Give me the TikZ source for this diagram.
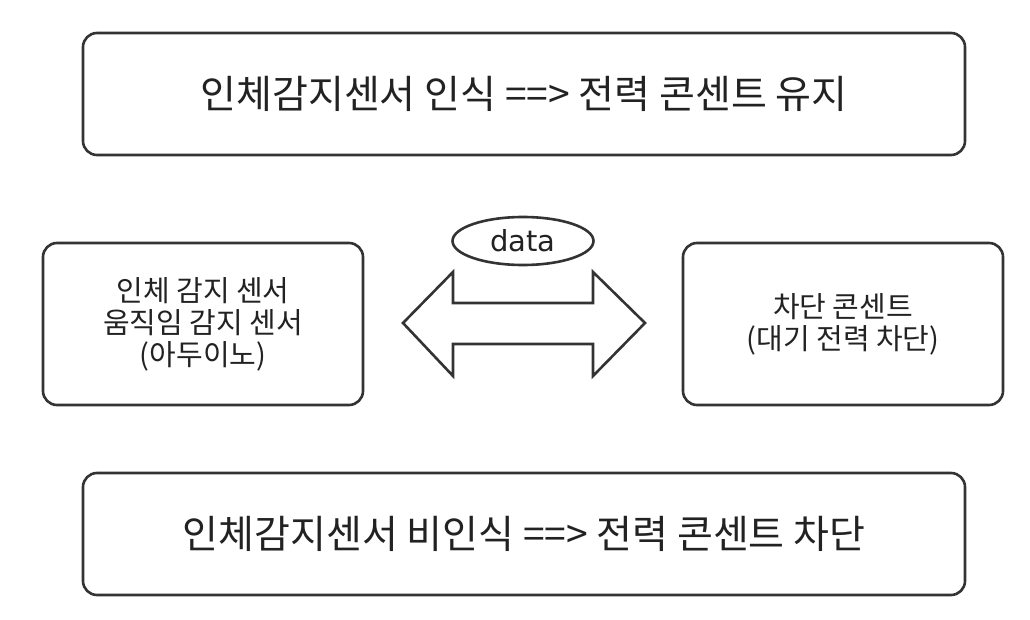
\documentclass[tikz,border=0pt]{standalone}
\usepackage{fontspec}
\setmainfont{Noto Sans CJK KR}
\newfontfamily\latinfont{DejaVu Sans}
\usetikzlibrary{shapes.geometric}
\definecolor{linec}{HTML}{333333}
\definecolor{textc}{HTML}{222222}
\begin{document}
\begin{tikzpicture}[x=1pt,y=-1pt,
  box/.style={draw=linec, line width=2.6pt, rounded corners=14pt, fill=white, text=textc, align=center, inner sep=0pt},
  bigtext/.style={font=\fontsize{39}{44}\selectfont},
  smalltext/.style={font=\fontsize{29}{32}\selectfont}]
\useasboundingbox[fill=white] (0,0) rectangle (1030,620);
\node[box, bigtext, minimum width=882pt, minimum height=122pt] (top) at (524,94) {인체감지센서 인식 ==> 전력 콘센트 유지};
\node[box, bigtext, minimum width=882pt, minimum height=122pt] (bottom) at (524,534) {인체감지센서 비인식 ==> 전력 콘센트 차단};
\node[box, smalltext, minimum width=320pt, minimum height=162pt] (left) at (203,324) {인체 감지 센서\\움직임 감지 센서\\(아두이노)};
\node[box, smalltext, minimum width=320pt, minimum height=162pt] (right) at (843,324) {차단 콘센트\\(대기 전력 차단)};
\node[ellipse, draw=linec, line width=2.6pt, minimum width=141pt, minimum height=48pt, inner sep=0pt, text=textc, font=\latinfont\fontsize{29}{32}\selectfont] (data) at (523,241) {data};
\draw[linec, line width=2.6pt, line join=miter, fill=white]
  (403,323) -- (453,272) -- (453,303) -- (593,303) -- (593,272) -- (645,323)
  -- (593,376) -- (593,344) -- (453,344) -- (453,376) -- cycle;
\end{tikzpicture}
\end{document}
